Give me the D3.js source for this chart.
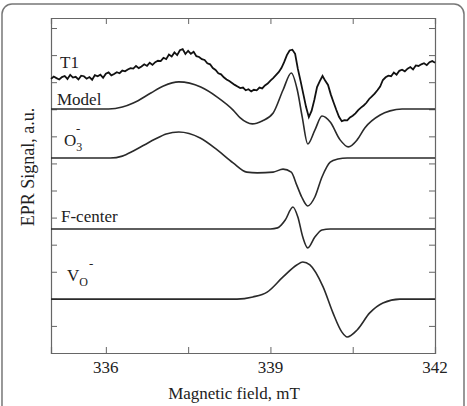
<!DOCTYPE html>
<html>
<head>
<meta charset="utf-8">
<script src="https://cdn.jsdelivr.net/npm/d3@7"></script>
<style>
  body { margin: 0; background: #fff; }
  text { font-family: "Liberation Serif", "Times New Roman", serif; fill: #222; }
</style>
</head>
<body>
<script>
  // x: magnetic field (mT), y: signal (a.u., each trace offset)
  const fieldTicks = [336, 337.5, 339, 340.5, 342];
  const fieldLabels = [336, 339, 342];
  const signalTicks = [1, 2, 3, 4, 5, 6, 7, 8, 9, 10, 11, 12];

  // measured trace T1, sampled every 0.05 mT from 335 mT
  const t1Start = 335;
  const t1Step = 0.05;
  const t1Signal = [
    10.12, 10.21, 10.15, 10.10, 10.19, 10.23, 10.12, 10.27, 10.17, 10.20,
    10.10, 10.24, 10.22, 10.13, 10.19, 10.09, 10.26, 10.22, 10.28, 10.16,
    10.31, 10.36, 10.25, 10.30, 10.37, 10.33, 10.43, 10.40, 10.47, 10.52,
    10.50, 10.60, 10.52, 10.58, 10.66, 10.60, 10.72, 10.64, 10.74, 10.79,
    10.78, 10.90, 10.85, 11.02, 10.95, 11.10, 11.00, 11.18, 11.22, 11.04,
    11.16, 11.05, 11.12, 10.96, 10.93, 10.85, 10.82, 10.70, 10.66, 10.52,
    10.45, 10.33, 10.29, 10.18, 10.10, 10.04, 9.97, 9.90, 9.84, 9.78,
    9.80, 9.70, 9.74, 9.66, 9.72, 9.70, 9.80, 9.77, 9.88, 9.95,
    10.06, 10.15, 10.26, 10.37, 10.52, 10.74, 11.00, 11.17, 11.20, 11.05,
    10.49, 10.04, 9.56, 9.08, 8.71, 8.94, 9.34, 9.82, 10.04, 10.23,
    10.05, 9.90, 9.55, 9.26, 8.98, 8.72, 8.56, 8.60, 8.59, 8.70,
    8.76, 8.85, 8.97, 9.06, 9.14, 9.24, 9.38, 9.48, 9.58, 9.70,
    9.84, 10.08, 10.18, 10.24, 10.22, 10.36, 10.28, 10.42, 10.46, 10.40,
    10.50, 10.56, 10.47, 10.62, 10.60, 10.66, 10.70, 10.63, 10.74, 10.78,
    10.72
  ];

  const modelField = [335.0, 336.05, 336.3, 336.5, 336.82, 337.05, 337.33, 337.73, 338.03, 338.32,
    338.45, 338.67, 338.85, 339.05, 339.23, 339.38, 339.49, 339.58, 339.68, 339.81,
    339.94, 340.09, 340.27, 340.42, 340.58, 340.72, 341.0, 341.18, 341.4, 342.0];
  const modelSignal = [9.01, 9.01, 9.08, 9.23, 9.60, 9.86, 10.01, 9.82, 9.45, 8.97,
    8.68, 8.46, 8.57, 8.86, 9.71, 10.34, 9.71, 8.71, 7.72, 8.23,
    8.75, 8.53, 7.87, 7.61, 7.87, 8.31, 8.79, 8.94, 9.01, 9.01];

  const o3Field = [335.0, 336.08, 336.3, 336.5, 336.7, 336.9, 337.1, 337.33, 337.72, 338.03,
    338.32, 338.57, 338.76, 339.05, 339.23, 339.38, 339.48, 339.57, 339.68, 339.81,
    339.94, 340.09, 340.23, 340.4, 342.0];
  const o3Signal = [7.20, 7.20, 7.27, 7.46, 7.68, 7.90, 8.09, 8.16, 7.94, 7.50,
    7.02, 6.68, 6.65, 6.68, 6.79, 6.68, 6.20, 5.76, 5.43, 5.76,
    6.50, 7.05, 7.16, 7.20, 7.20];

  const fField = [335.0, 339.0, 339.13, 339.2, 339.27, 339.41, 339.5, 339.59, 339.68, 339.81, 339.94, 340.09, 342.0];
  const fSignal = [4.58, 4.58, 4.62, 4.73, 4.91, 5.39, 5.02, 4.28, 3.88, 4.28, 4.54, 4.58, 4.58];

  const voField = [335.0, 338.39, 338.68, 338.94, 339.23, 339.48, 339.59, 339.72, 339.96, 340.14,
    340.3, 340.4, 340.58, 340.81, 341.05, 341.36, 342.0];
  const voSignal = [1.99, 1.99, 2.07, 2.25, 2.81, 3.25, 3.36, 3.25, 2.44, 1.48,
    0.78, 0.59, 0.85, 1.48, 1.85, 1.99, 1.99];

  const width = 467;
  const height = 406;
  const plotLeft = 51, plotRight = 435, plotTop = 18, plotBottom = 353;

  const svg = d3.select('body')
    .append('svg')
    .attr('width', width)
    .attr('height', height);

  // rounded outer frame
  svg.append('rect')
    .attr('x', 2).attr('y', 4)
    .attr('width', 462).attr('height', 430)
    .attr('rx', 10)
    .attr('fill', 'none')
    .attr('stroke', '#777')
    .attr('stroke-width', 1.5);

  const x = d3.scaleLinear().domain([335, 342]).range([plotLeft, plotRight]);
  const y = d3.scaleLinear().domain([0, 12.37]).range([plotBottom, plotTop]);

  // axes with inward ticks on all four sides
  const axisColor = '#666';
  const bottomAxis = svg.append('g')
    .attr('transform', `translate(0,${plotBottom})`)
    .call(d3.axisTop(x).tickValues(fieldTicks).tickSize(6).tickFormat(''));
  const topAxis = svg.append('g')
    .attr('transform', `translate(0,${plotTop})`)
    .call(d3.axisBottom(x).tickValues(fieldTicks).tickSize(6).tickFormat(''));
  const leftAxis = svg.append('g')
    .attr('transform', `translate(${plotLeft},0)`)
    .call(d3.axisRight(y).tickValues(signalTicks).tickSize(6).tickFormat(''));
  const rightAxis = svg.append('g')
    .attr('transform', `translate(${plotRight},0)`)
    .call(d3.axisLeft(y).tickValues(signalTicks).tickSize(6).tickFormat(''));

  [bottomAxis, topAxis, leftAxis, rightAxis].forEach(g => {
    g.select('.domain').attr('stroke', axisColor).attr('stroke-width', 1.2);
    g.selectAll('.tick line').attr('stroke', axisColor);
  });

  svg.append('g')
    .selectAll('text')
    .data(fieldLabels)
    .enter()
    .append('text')
    .attr('x', d => x(d))
    .attr('y', 373)
    .attr('text-anchor', 'middle')
    .attr('font-size', 17)
    .text(d => d);

  svg.append('text')
    .attr('x', 234)
    .attr('y', 399)
    .attr('text-anchor', 'middle')
    .attr('font-size', 17)
    .text('Magnetic field, mT');

  svg.append('text')
    .attr('transform', 'rotate(-90)')
    .attr('x', -167)
    .attr('y', 34)
    .attr('text-anchor', 'middle')
    .attr('font-size', 18)
    .text('EPR Signal, a.u.');

  // traces
  const smooth = d3.line()
    .x(d => x(d[0]))
    .y(d => y(d[1]))
    .curve(d3.curveMonotoneX);

  const traces = [
    [modelField, modelSignal],
    [o3Field, o3Signal],
    [fField, fSignal],
    [voField, voSignal]
  ];

  svg.append('g')
    .selectAll('path')
    .data(traces)
    .enter()
    .append('path')
    .attr('d', d => smooth(d3.zip(d[0], d[1])))
    .attr('fill', 'none')
    .attr('stroke', '#2a2a2a')
    .attr('stroke-width', 1.6);

  const t1Points = t1Signal.map((v, i) => [t1Start + i * t1Step, v]);
  svg.append('path')
    .attr('d', d3.line().x(d => x(d[0])).y(d => y(d[1]))(t1Points))
    .attr('fill', 'none')
    .attr('stroke', '#111')
    .attr('stroke-width', 1.8);

  // trace labels
  svg.append('text').attr('x', 60).attr('y', 68).attr('font-size', 17).text('T1');
  svg.append('text').attr('x', 57).attr('y', 105).attr('font-size', 17).text('Model');

  const o3 = svg.append('text').attr('x', 64).attr('y', 146).attr('font-size', 17);
  o3.append('tspan').text('O');
  o3.append('tspan').attr('font-size', 12).attr('dy', 5).text('3');
  svg.append('text').attr('x', 76).attr('y', 133).attr('font-size', 13).text('-');

  svg.append('text').attr('x', 61).attr('y', 222).attr('font-size', 17).text('F-center');

  const vo = svg.append('text').attr('x', 67).attr('y', 281).attr('font-size', 17);
  vo.append('tspan').text('V');
  vo.append('tspan').attr('font-size', 12).attr('dy', 5).text('O');
  svg.append('text').attr('x', 89).attr('y', 268).attr('font-size', 13).text('-');
</script>
</body>
</html>
